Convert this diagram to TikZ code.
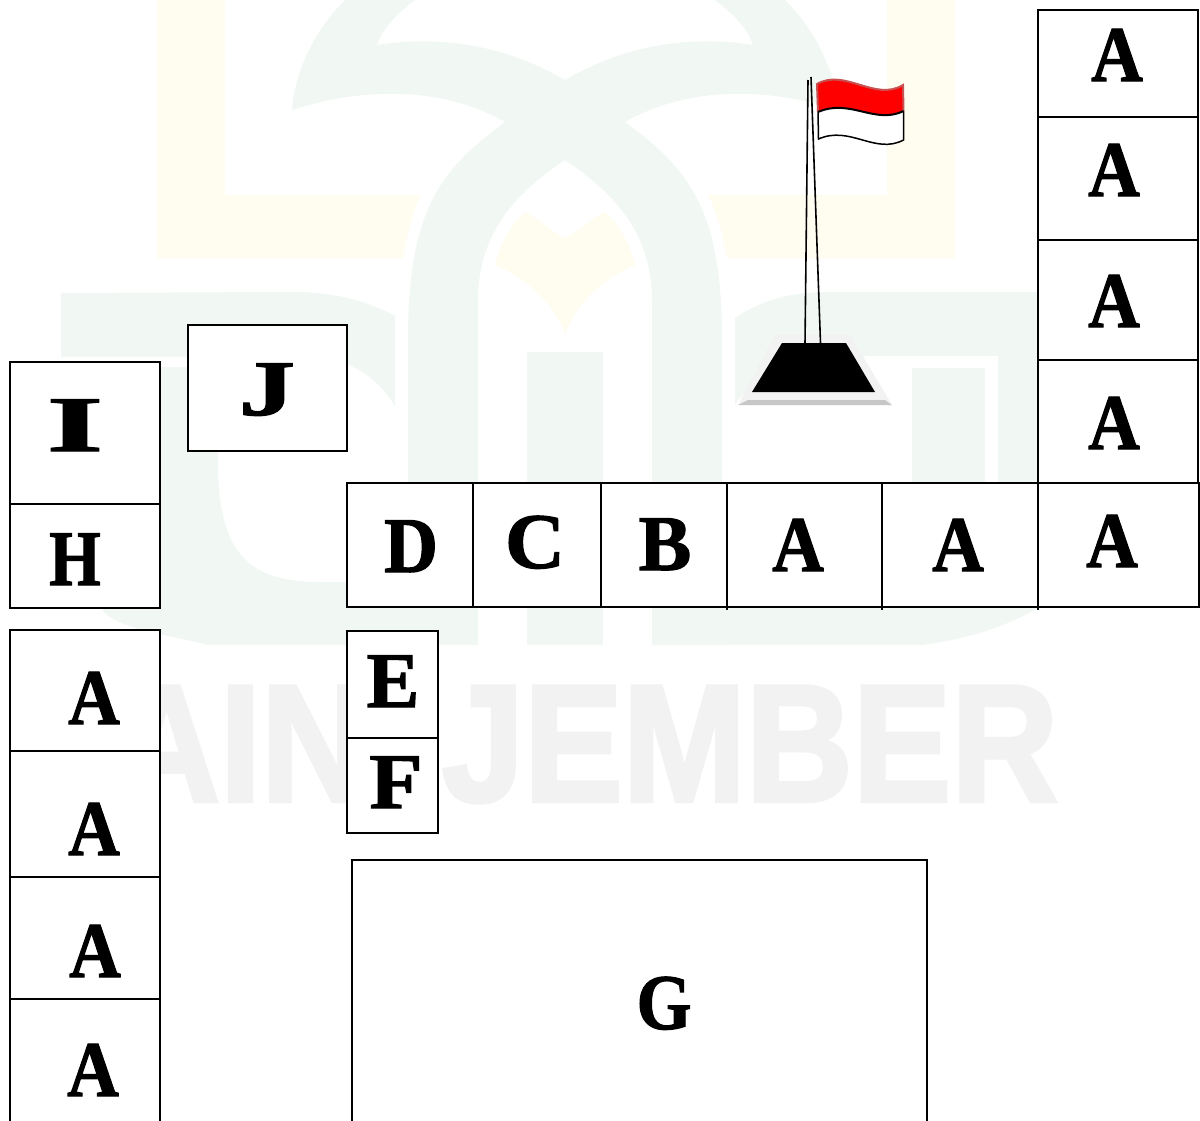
\documentclass[tikz,border=0pt]{standalone}
\usepackage{fontspec}
\newfontfamily\lettfont[BoldFont={Liberation Serif Bold},BoldFeatures={FakeBold=1.5}]{Liberation Serif}
\newfontfamily\wmfont[BoldFont={Liberation Sans Bold},BoldFeatures={FakeBold=2.5}]{Liberation Sans}
\definecolor{wmgreen}{HTML}{F1F8F3}
\definecolor{wmyellow}{HTML}{FFFDF0}
\definecolor{wmgray}{HTML}{F2F2F2}
\definecolor{flagedge}{HTML}{C85050}
\tikzset{
  cell/.style={draw=black,fill=white,line width=1.8pt,inner sep=0pt,outer sep=0pt},
  tick/.style={draw=black,line width=1.6pt},
  letter/.style={font=\lettfont\bfseries\fontsize{83}{90}\selectfont,inner sep=0pt,anchor=base,xscale=#1,yscale=.95},
  letter/.default=.86,
  wg/.style={fill=wmgreen,draw=none},
  wy/.style={fill=wmyellow,draw=none},
  pole/.style={draw=black,line width=1.6pt},
  flagline/.style={draw=black,line width=1.5pt}
}
\newcommand{\cellbox}[5]{\node[cell,minimum width=#4-#2,minimum height=#5-#3] (#1) at ({(#2+#4)/2},{(#3+#5)/2}) {};}
\begin{document}
\begin{tikzpicture}[x=1pt,y=-1pt]
\clip (0,0) rectangle (1200,1120);
\fill[white] (0,0) rectangle (1200,1120);
% watermark
\fill[wy] (157,0) -- (157,258) -- (403,258) .. controls (407,235) and (412,215) .. (420,195) -- (225,195) -- (225,0) -- cycle;
\fill[wy] (955,0) -- (955,258) -- (727,258) .. controls (723,235) and (718,215) .. (708,195) -- (887,195) -- (887,0) -- cycle;
\fill[wy] (565,238) .. controls (552,232) and (538,218) .. (525,212) .. controls (510,225) and (500,245) .. (495,265) .. controls (530,280) and (555,305) .. (565,335) .. controls (575,305) and (600,280) .. (635,265) .. controls (630,245) and (620,225) .. (605,212) .. controls (592,218) and (578,232) .. (565,238) -- cycle;
\fill[wg] (345,0) .. controls (315,30) and (295,70) .. (292,110) .. controls (360,88) and (440,85) .. (505,122) .. controls (440,170) and (408,210) .. (408,340) -- (408,645) -- (478,645) -- (478,300) .. controls (478,230) and (520,190) .. (565,160) .. controls (610,190) and (652,230) .. (652,300) -- (652,645) -- (722,645) -- (722,340) .. controls (722,210) and (690,170) .. (625,122) .. controls (690,85) and (770,88) .. (838,110) .. controls (835,70) and (815,30) .. (785,0) -- (715,0) .. controls (735,15) and (748,30) .. (753,45) .. controls (690,35) and (625,45) .. (565,80) .. controls (505,45) and (440,35) .. (377,45) .. controls (382,30) and (395,15) .. (415,0) -- cycle;
\fill[wg] (527,352) rectangle (603,645);
\fill[wg] (61,293) -- (275,292) .. controls (330,290) and (365,300) .. (395,316) -- (395,406) .. controls (375,375) and (350,357) .. (300,357) -- (61,357) -- cycle;
\fill[wg] (130,367) -- (218,367) -- (218,470) .. controls (220,555) and (250,582) .. (321,582) -- (410,582) -- (410,645) -- (300,645) -- (208,645) .. controls (170,635) and (120,630) .. (103,611) -- cycle;
\fill[wg] (735,318) .. controls (770,295) and (800,292) .. (834,292) -- (1040,292) -- (1040,483) -- (998,483) -- (998,356) -- (830,356) .. controls (785,356) and (755,375) .. (735,405) -- cycle;
\fill[wg] (912,368) rectangle (985,483);
\fill[wg] (652,607) -- (1040,607) .. controls (1000,630) and (960,640) .. (922,645) -- (652,645) -- cycle;
\node[inner sep=0pt,anchor=base west,text=wmgray,xscale=.87,yscale=.98,font=\wmfont\bfseries\fontsize{170}{180}\selectfont] (wm) at (113,801) {AIN\hspace{85pt}JEMBER};
% flagpole
\fill[fill=wmgray] (775,335) -- (850,335) -- (892,405) -- (738,405) -- cycle;
\fill[fill=black!22] (738,405) -- (892,405) -- (885,400) -- (748,400) -- cycle;
\fill[black] (782,343) -- (846,343) -- (875,392) -- (752,392) -- cycle;
\coordinate (poleLtop) at (808,80);
\coordinate (poleLbot) at (805,344);
\coordinate (poleRtop) at (811,77);
\coordinate (poleRbot) at (820.5,343);
\draw[pole] (poleLtop) -- (poleLbot);
\draw[pole] (poleRtop) -- (poleRbot);
% flag
\coordinate (fa) at (817,84);
\coordinate (fb) at (903,85);
\coordinate (fc) at (903.5,111);
\coordinate (fd) at (818,112);
\coordinate (fe) at (818.5,139);
\coordinate (ff) at (903.5,140);
\fill[white] (fd) .. controls (850,98) and (875,125) .. (fc) -- (ff) .. controls (875,155) and (850,125) .. (fe) -- cycle;
\draw[flagline] (fd) -- (fe) .. controls (850,125) and (875,155) .. (ff) -- (fc);
\fill[red] (fa) .. controls (845,68) and (875,102) .. (fb) -- (fc) .. controls (875,125) and (850,98) .. (fd) -- cycle;
\draw[flagedge,line width=2pt] (fd) -- (fa) .. controls (845,68) and (875,102) .. (fb) -- (fc);
\draw[draw=black,line width=2pt] (fd) .. controls (850,98) and (875,125) .. (fc);
% right column
\cellbox{r1}{1038}{10}{1198}{117}
\cellbox{r2}{1038}{117}{1198}{240}
\cellbox{r3}{1038}{240}{1198}{360}
\cellbox{r4}{1038}{360}{1198}{483}
% row
\cellbox{rowD}{347}{483}{473}{607}
\cellbox{rowC}{473}{483}{601}{607}
\cellbox{rowB}{601}{483}{727}{607}
\cellbox{rowAa}{727}{483}{882}{607}
\cellbox{rowAb}{882}{483}{1038}{607}
\cellbox{rowAc}{1038}{483}{1199}{607}
\draw[tick] (rowAa.south west) -- ++(0,3);
\draw[tick] (rowAb.south west) -- ++(0,3);
\draw[tick] (rowAc.south west) -- ++(0,3);
% left column
\cellbox{boxI}{10}{362}{160}{504}
\cellbox{boxH}{10}{504}{160}{608}
\cellbox{boxJ}{188}{325}{347}{451}
\cellbox{l1}{10}{630}{160}{751}
\cellbox{l2}{10}{751}{160}{877}
\cellbox{l3}{10}{877}{160}{999}
\cellbox{l4}{10}{999}{160}{1130}
\cellbox{boxE}{347}{631}{438}{738}
\cellbox{boxF}{347}{738}{438}{833}
\cellbox{boxG}{352}{860}{927}{1130}
% letters
\node[letter] (t1) at (1117,81) {A};
\node[letter] (t2) at (1114,196) {A};
\node[letter] (t3) at (1114,327) {A};
\node[letter] (t4) at (1114,449) {A};
\node[letter=.9] (tD) at (411,572) {D};
\node[letter=1.0] (tC) at (535,568) {C};
\node[letter=.95] (tB) at (665,570) {B};
\node[letter] (ta) at (798,571) {A};
\node[letter] (tb) at (958,571) {A};
\node[letter] (tc) at (1112,567) {A};
\node[letter=1.75] (tI) at (75,451) {I};
\node[letter=.8] (tH) at (75,585) {H};
\node[letter=1.35] (tJ) at (267,415) {J};
\node[letter] (u1) at (94,724) {A};
\node[letter] (u2) at (94,855) {A};
\node[letter] (u3) at (95,977) {A};
\node[letter] (u4) at (93,1096) {A};
\node[letter=.95] (tE) at (393,707) {E};
\node[letter=1.05] (tF) at (396,808) {F};
\node[letter=.85] (tG) at (664,1029) {G};
\end{tikzpicture}
\end{document}
